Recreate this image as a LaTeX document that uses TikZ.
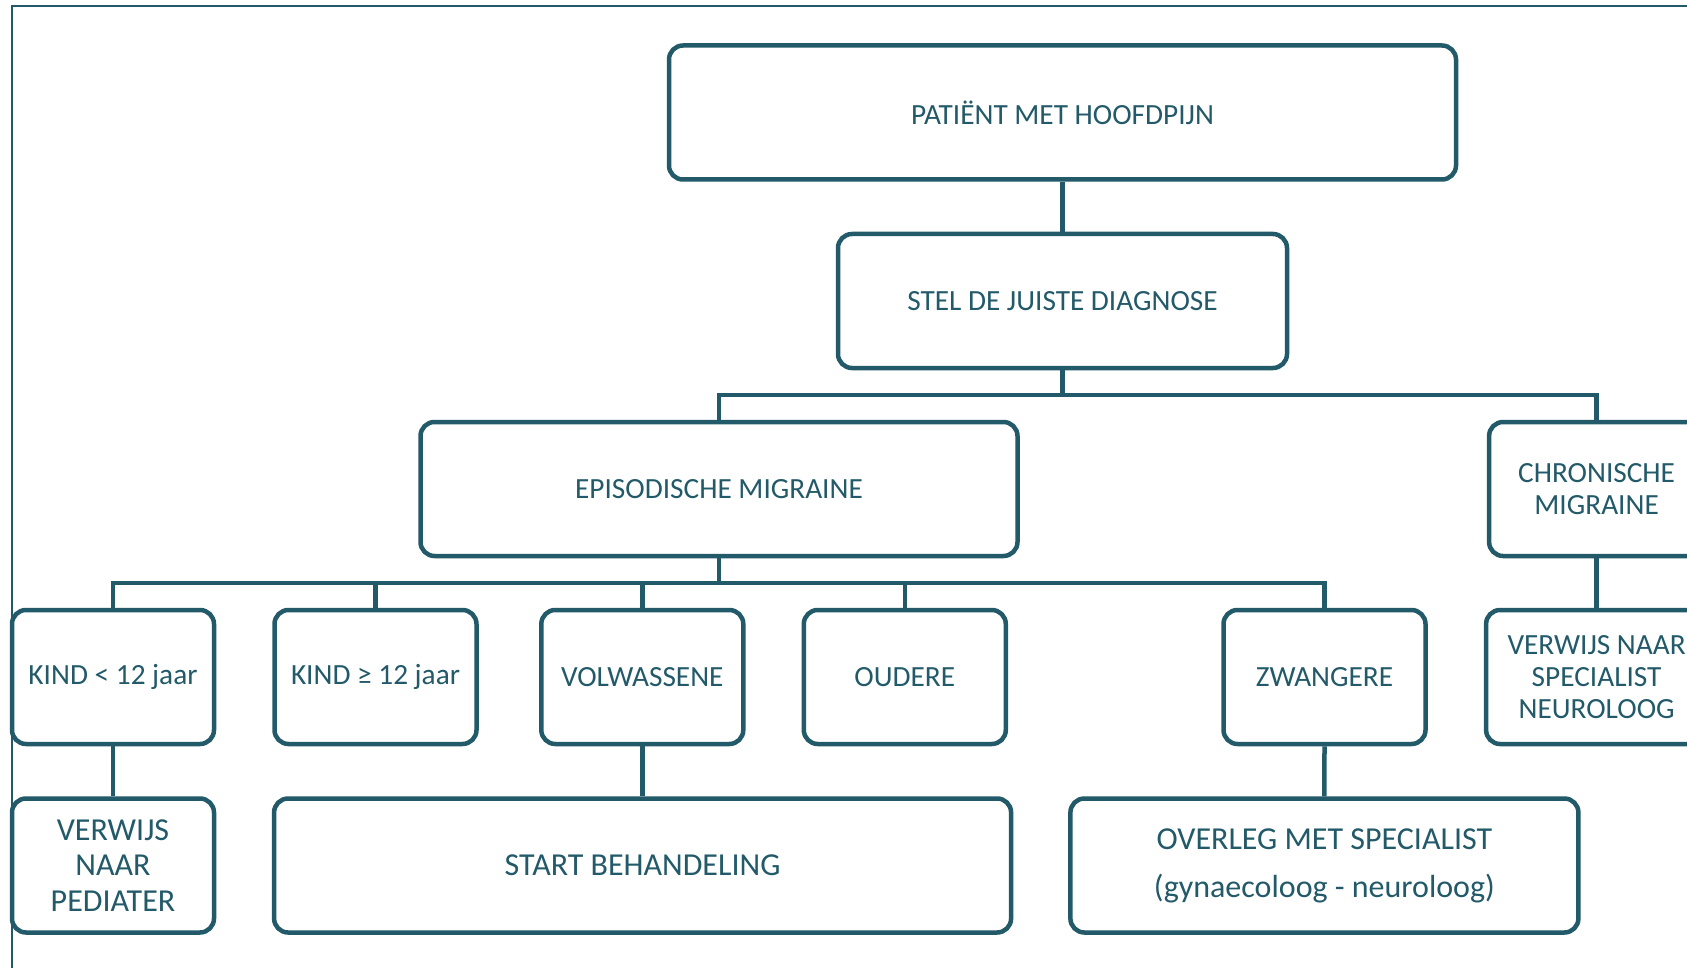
\documentclass[tikz,border=0pt]{standalone}
\usepackage{fontspec}
\setmainfont{Carlito}
\definecolor{teal1}{RGB}{35,90,105}
\tikzset{
  box/.style={draw=teal1, line width=4.5pt, rounded corners=14pt, fill=white,
    inner sep=0pt, align=center, text=teal1, font=\fontsize{29.3}{34}\selectfont},
  big/.style={font=\fontsize{32}{35.5}\selectfont},
  mid/.style={font=\fontsize{29.3}{32}\selectfont},
  conn/.style={draw=teal1, line width=4.5pt},
  frame/.style={draw=teal1, line width=2pt}
}
\begin{document}
\begin{tikzpicture}[x=1pt,y=-1pt]
\useasboundingbox (0,0) rectangle (1687,968);
\clip (0,0) rectangle (1687,968);
\fill[white] (0,0) rectangle (1687,968);
\draw[frame] (12,968) -- (12,6.5) -- (1687,6.5);

\node[box, minimum width=787pt, minimum height=134pt] (pat) at (1062.5,112.5) {PATIËNT MET HOOFDPIJN};
\node[box, minimum width=449pt, minimum height=134pt] (stel) at (1062.5,301) {STEL DE JUISTE DIAGNOSE};
\node[box, minimum width=597pt, minimum height=134pt] (epi) at (719,489) {EPISODISCHE MIGRAINE};
\node[box, mid, minimum width=215pt, minimum height=134pt] (chr) at (1596.6,489) {CHRONISCHE\\MIGRAINE};

\node[box, minimum width=202pt, minimum height=134pt] (k1) at (113,677) {KIND < 12 jaar};
\node[box, minimum width=202pt, minimum height=134pt] (k2) at (375.5,677) {KIND ≥ 12 jaar};
\node[box, minimum width=202pt, minimum height=134pt] (vol) at (642.3,677) {VOLWASSENE};
\node[box, minimum width=202pt, minimum height=134pt] (oud) at (904.8,677) {OUDERE};
\node[box, minimum width=202pt, minimum height=134pt] (zw) at (1324.5,677) {ZWANGERE};
\node[box, mid, minimum width=221pt, minimum height=134pt] (vspec) at (1596.6,677) {VERWIJS NAAR\\SPECIALIST\\NEUROLOOG};

\node[box, big, minimum width=202pt, minimum height=134pt] (ped) at (113,865.5) {VERWIJS\\NAAR\\PEDIATER};
\node[box, big, minimum width=737pt, minimum height=134pt] (start) at (642.6,865.5) {START BEHANDELING};
\node[box, minimum width=508pt, minimum height=134pt, font=\fontsize{32}{48}\selectfont] (ovl) at (1324.4,865.5) {OVERLEG MET SPECIALIST\\(gynaecoloog - neuroloog)};

\coordinate (j1) at (1062.5,395);
\coordinate (j2) at (719,583);

\draw[conn] (pat.south) -- (stel.north);
\draw[conn] (stel.south) -- (j1);
\draw[conn] (epi.north) |- (j1) -| (chr.north);
\draw[conn] (epi.south) -- (j2);
\draw[conn] (k1.north) |- (j2) -| (zw.north);
\draw[conn] (k2.north) -- (k2.north |- j2);
\draw[conn] (vol.north) -- (vol.north |- j2);
\draw[conn] (oud.north) -- (oud.north |- j2);
\draw[conn] (chr.south) -- (vspec.north);
\draw[conn] (k1.south) -- (ped.north);
\draw[conn] (vol.south) -- (vol.south |- start.north);
\draw[conn] (zw.south) -- (ovl.north);
\end{tikzpicture}
\end{document}
